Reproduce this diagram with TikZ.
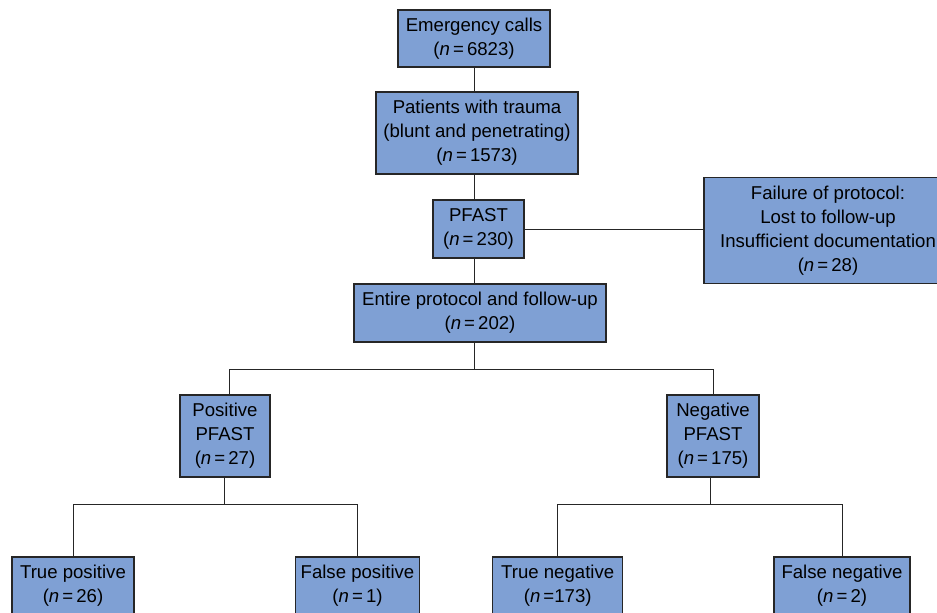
\documentclass[tikz,border=0pt]{standalone}
\usepackage{fontspec}
\setmainfont{Liberation Sans}
\definecolor{boxblue}{RGB}{127,160,212}

\begin{document}
\begin{tikzpicture}[x=0.5pt, y=-0.5pt,
  box/.style={draw=black!85, line width=0.65pt, fill=boxblue, align=center, inner sep=0pt, font=\fontsize{9.3}{12}\selectfont},
  link/.style={draw=black!85, line width=0.5pt}]
% Fix the canvas
\useasboundingbox (0,0) rectangle (937,612);

% Main chain
\node[box, minimum width=76pt, minimum height=28.5pt] (calls) at (474,38.5) {Emergency calls\\(\textit{n}\,=\,6823)};
\node[box, minimum width=101pt, minimum height=41pt] (trauma) at (477,133) {Patients with trauma\\(blunt and penetrating)\\(\textit{n}\,=\,1573)};
\node[box, minimum width=45.5pt, minimum height=29pt] (pfast) at (478.5,229) {PFAST\\(\textit{n}\,=\,230)};
\node[box, minimum width=124pt, minimum height=53pt] (fail) at (828,230.5) {Failure of protocol:\\Lost to follow-up\\Insufficient documentation\\(\textit{n}\,=\,28)};
\node[box, minimum width=126pt, minimum height=29pt] (entire) at (480,313) {Entire protocol and follow-up\\(\textit{n}\,=\,202)};

% Result of the scan
\node[box, minimum width=45pt, minimum height=41pt] (pos) at (225,436) {Positive\\PFAST\\(\textit{n}\,=\,27)};
\node[box, minimum width=46pt, minimum height=41pt] (neg) at (713,436) {Negative\\PFAST\\(\textit{n}\,=\,175)};

% Final outcome
\node[box, minimum width=61pt, minimum height=29pt] (tp) at (73,586) {True positive\\(\textit{n}\,=\,26)};
\node[box, minimum width=62pt, minimum height=29pt] (fp) at (357.5,586) {False positive\\(\textit{n}\,=\,1)};
\node[box, minimum width=65pt, minimum height=29pt] (tn) at (557.7,586) {True negative\\(\textit{n}\,=173)};
\node[box, minimum width=68pt, minimum height=29pt] (fn) at (842,586) {False negative\\(\textit{n}\,=\,2)};

% Branch points
\coordinate (spine) at (474,0);
\coordinate (split) at (474,369);
\coordinate (possplit) at (224,504);
\coordinate (negsplit) at (710,504);

% Connectors
\draw[link] (spine |- calls.south) -- (spine |- trauma.north);
\draw[link] (spine |- trauma.south) -- (spine |- pfast.north);
\draw[link] (pfast.east) -- (pfast.east -| fail.west);
\draw[link] (spine |- pfast.south) -- (spine |- entire.north);
\draw[link] (spine |- entire.south) -- (split);
\draw[link] ([xshift=2pt]pos.north) |- (split) -| (neg.north);
\draw[link] (possplit |- pos.south) -- (possplit);
\draw[link] (tp.north) |- (possplit) -| (fp.north);
\draw[link] (negsplit |- neg.south) -- (negsplit);
\draw[link] (tn.north) |- (negsplit) -| (fn.north);
\end{tikzpicture}
\end{document}
